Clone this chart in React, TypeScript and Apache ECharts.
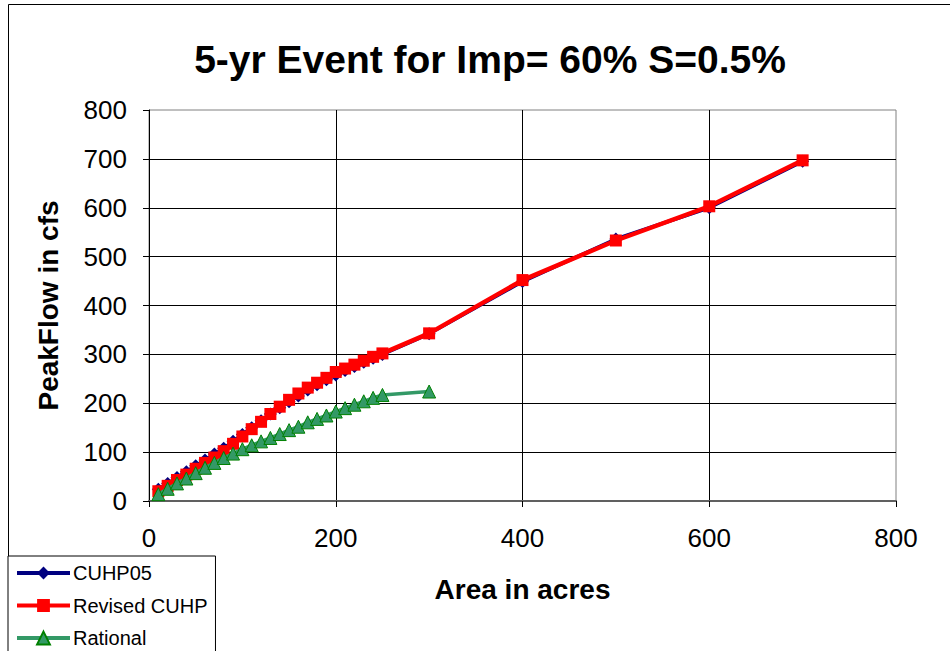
import React, { useEffect, useRef } from "react";
import * as echarts from "echarts";

const titleText = "5-yr Event for Imp= 60% S=0.5%";
const xName = "Area in acres";
const yName = "PeakFlow in cfs";

const cuhpAreas = [10, 20, 30, 40, 50, 60, 70, 80, 90, 100, 110, 120, 130, 140, 150, 160, 170, 180, 190, 200, 210, 220, 230, 240, 250, 300, 400, 500, 600, 700];
const cuhp05 = [24, 36, 48, 60, 72, 84, 96, 108, 122, 136, 150, 164, 178, 191, 203, 215, 227, 238, 248, 258, 267, 275, 284, 292, 300, 342, 449, 536, 600, 695];
const revisedCuhp = [20, 31, 43, 54, 66, 78, 89, 102, 117, 132, 147, 162, 178, 193, 207, 220, 232, 242, 252, 264, 271, 279, 287, 295, 302, 343, 452, 533, 603, 697];

const rationalAreas = [10, 20, 30, 40, 50, 60, 70, 80, 90, 100, 110, 120, 130, 140, 150, 160, 170, 180, 190, 200, 210, 220, 230, 240, 250, 300];
const rational = [14, 25, 36, 46, 57, 68, 78, 88, 97, 106, 114, 122, 129, 137, 145, 152, 161, 168, 175, 183, 190, 197, 204, 211, 217, 224];

const xTicks = [0, 200, 400, 600, 800];
const yTicks = [0, 100, 200, 300, 400, 500, 600, 700, 800];

const FONT = "'Liberation Sans', Arial, sans-serif";

export default function App() {
  const ref = useRef<HTMLDivElement>(null);
  useEffect(() => {
    if (!ref.current) return;
    const chart = echarts.init(ref.current, undefined, { renderer: "svg" });
    const pair = (xs: number[], ys: number[]) => xs.map((x, i) => [x, ys[i]]);
    chart.setOption({
      animation: false,
      backgroundColor: "#ffffff",
      textStyle: { fontFamily: FONT },
      title: {
        text: titleText,
        left: 485,
        top: 35,
        textAlign: "center",
        textStyle: { fontSize: 39, fontWeight: "bold", color: "#000", fontFamily: FONT },
      },
      graphic: [
        {
          type: "rect",
          shape: { x: 8.5, y: 4.5, width: 960, height: 700 },
          style: { fill: "none", stroke: "#000", lineWidth: 1 },
          z: -10,
          silent: true,
        },
      ],
      grid: {
        left: 149,
        right: 54,
        top: 110,
        bottom: 150,
        show: true,
        borderColor: "#808080",
        borderWidth: 1,
        backgroundColor: "transparent",
      },
      legend: {
        orient: "vertical",
        left: 8,
        top: 556,
        height: 200,
        padding: [7, 8, 30, 7],
        itemGap: 12.5,
        itemWidth: 53,
        itemHeight: 16,
        backgroundColor: "#fff",
        borderColor: "#000",
        borderWidth: 1,
        borderRadius: 0,
        lineStyle: { width: 4 },
        textStyle: { fontSize: 20, color: "#000", fontFamily: FONT, padding: [0, 0, 0, -2] },
        data: ["CUHP05", "Revised CUHP", "Rational"],
      },
      xAxis: {
        type: "value",
        min: xTicks[0],
        max: xTicks[xTicks.length - 1],
        interval: 200,
        name: xName,
        nameLocation: "middle",
        nameGap: 74,
        nameTextStyle: { fontSize: 28, fontWeight: "bold", color: "#000", fontFamily: FONT },
        axisLine: { show: true, onZero: false, lineStyle: { color: "#606060", width: 2 } },
        axisTick: { show: true, length: 6, lineStyle: { color: "#000" } },
        axisLabel: { fontSize: 26, color: "#000", margin: 24, fontFamily: FONT },
        splitLine: { show: true, showMinLine: false, showMaxLine: false, lineStyle: { color: "#000", width: 1 } },
      },
      yAxis: {
        type: "value",
        min: yTicks[0],
        max: yTicks[yTicks.length - 1],
        interval: 100,
        name: yName,
        nameLocation: "middle",
        nameGap: 87,
        nameTextStyle: { fontSize: 28, fontWeight: "bold", color: "#000", fontFamily: FONT },
        axisLine: { show: true, onZero: false, lineStyle: { color: "#000", width: 1 } },
        axisTick: { show: true, length: 6, lineStyle: { color: "#000" } },
        axisLabel: { fontSize: 26, color: "#000", margin: 22, fontFamily: FONT },
        splitLine: { show: true, showMinLine: false, showMaxLine: false, lineStyle: { color: "#000", width: 1 } },
      },
      series: [
        {
          name: "CUHP05",
          type: "line",
          data: pair(cuhpAreas, cuhp05),
          symbol: "diamond",
          symbolSize: 13,
          lineStyle: { color: "#000080", width: 3.5 },
          itemStyle: { color: "#000080" },
          z: 2,
        },
        {
          name: "Revised CUHP",
          type: "line",
          data: pair(cuhpAreas, revisedCuhp),
          symbol: "rect",
          symbolSize: 12,
          lineStyle: { color: "#ff0000", width: 4.5 },
          itemStyle: { color: "#ff0000" },
          z: 3,
        },
        {
          name: "Rational",
          type: "line",
          data: pair(rationalAreas, rational),
          symbol: "triangle",
          symbolSize: 13,
          lineStyle: { color: "#339966", width: 3.5 },
          itemStyle: { color: "#339966", borderColor: "#008000", borderWidth: 1 },
          z: 4,
        },
      ],
    });
    return () => chart.dispose();
  }, []);
  return (
    <div
      ref={ref}
      style={{ position: "fixed", left: 0, top: 0, width: 950, height: 651 }}
    />
  );
}
